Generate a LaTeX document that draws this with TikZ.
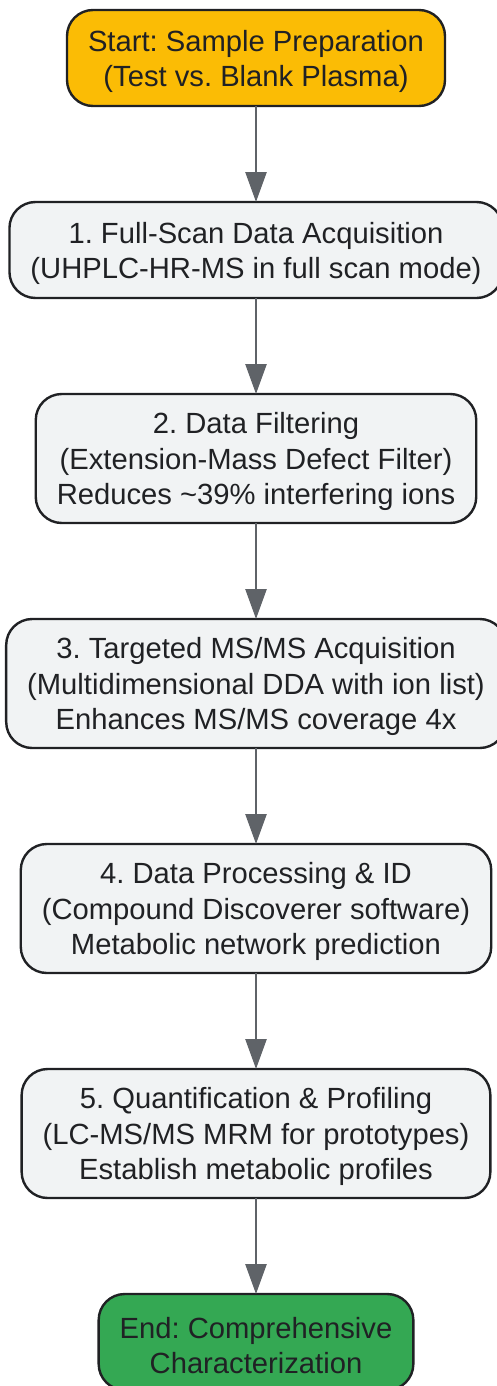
\documentclass[tikz,border=0pt]{standalone}
\usepackage{fontspec}
\setmainfont{Liberation Sans}
\usetikzlibrary{positioning, arrows.meta}
\definecolor{startfill}{HTML}{FBBC05}
\definecolor{endfill}{HTML}{34A853}
\definecolor{stepfill}{HTML}{F1F3F4}
\definecolor{edgegray}{HTML}{5F6368}
\definecolor{inkdark}{HTML}{202124}
\frenchspacing
\newcommand{\lineup}{\rule{0pt}{14pt}}

\begin{document}
\begin{tikzpicture}[node distance = 48pt,
StepStyle/.style={draw=inkdark, line width=1.2pt, rounded corners=13pt,
                fill=stepfill, text=inkdark, align=center,
                font=\fontsize{14.6}{17.75}\selectfont, inner xsep=10.5pt,
                inner ysep=0pt, outer sep=0pt, minimum height=48pt},
TallStyle/.style={StepStyle, minimum height=64.5pt},
FlowArrow/.style={draw=edgegray, line width=1.3pt,
                -{Triangle[length=15pt, width=10.5pt]}},]
\useasboundingbox (0,0) rectangle (248.5pt,-693pt);
\node [StepStyle, fill=startfill] (start) at (128pt,-29pt)
      {\lineup Start: Sample Preparation\\(Test vs. Blank Plasma)};
\node [StepStyle, below=of start] (s1)
      {\lineup 1. Full-Scan Data Acquisition\\(UHPLC-HR-MS in full scan mode)};
\node [TallStyle, below=of s1] (s2)
      {\lineup 2. Data Filtering\\(Extension-Mass Defect Filter)\\Reduces \textasciitilde39\% interfering ions};
\node [TallStyle, below=of s2] (s3)
      {\lineup 3. Targeted MS/MS Acquisition\\(Multidimensional DDA with ion list)\\Enhances MS/MS coverage 4x};
\node [TallStyle, below=of s3] (s4)
      {\lineup 4. Data Processing \& ID\\(Compound Discoverer software)\\Metabolic network prediction};
\node [TallStyle, below=of s4] (s5)
      {\lineup 5. Quantification \& Profiling\\(LC-MS/MS MRM for prototypes)\\Establish metabolic profiles};
\node [StepStyle, fill=endfill, below=of s5] (finish)
      {\lineup End: Comprehensive\\Characterization};
\draw [FlowArrow] (start) -- (s1);
\draw [FlowArrow] (s1) -- (s2);
\draw [FlowArrow] (s2) -- (s3);
\draw [FlowArrow] (s3) -- (s4);
\draw [FlowArrow] (s4) -- (s5);
\draw [FlowArrow] (s5) -- (finish);
\end{tikzpicture}
\end{document}
